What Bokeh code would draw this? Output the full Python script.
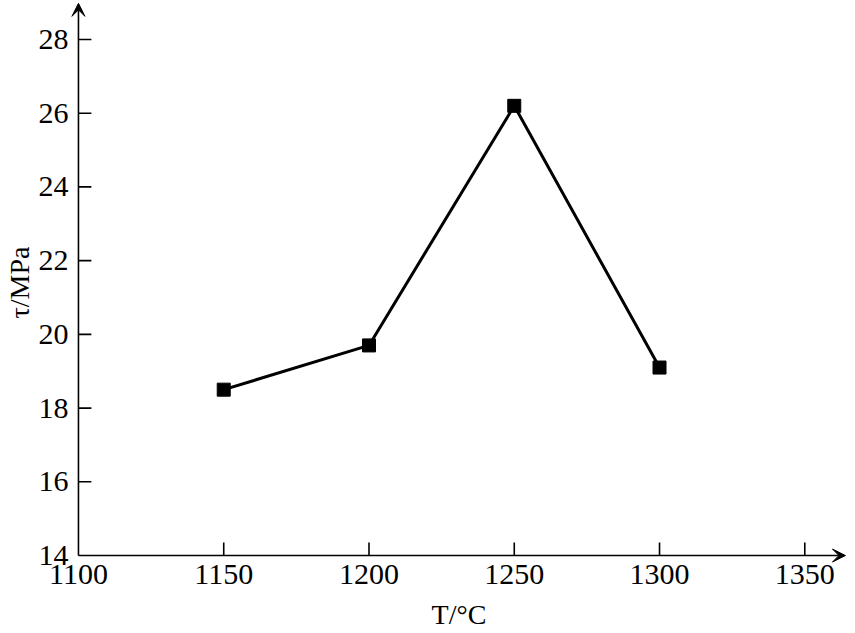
from bokeh.plotting import figure
from bokeh.models import Range1d, Arrow, VeeHead, FixedTicker
from bokeh.embed import file_html
from bokeh.resources import INLINE

temps = [1150, 1200, 1250, 1300]
tau = [18.5, 19.7, 26.2, 19.1]
x_ticks = [1100, 1150, 1200, 1250, 1300, 1350]
y_ticks = [14, 16, 18, 20, 22, 24, 26, 28]

XA, YA = 1100, 14          # axis origin
X0, X1 = 1097.26, 1364.7   # x range (a little room for arrow heads)
Y0, Y1 = 13.784, 29.03
XTIP, YTIP = 1364.0, 28.98
TX, TY = 13 / 2.92, 13 / 37.0   # tick lengths in data units

p = figure(width=847, height=632, output_backend="svg", toolbar_location=None,
           x_range=Range1d(X0, X1), y_range=Range1d(Y0, Y1),
           min_border_left=66, min_border_bottom=67, min_border_top=1, min_border_right=0)
p.outline_line_color = None
p.grid.grid_line_color = None

FONT = "Liberation Serif"
for ax in (p.xaxis[0], p.yaxis[0]):
    ax.axis_line_color = None
    ax.major_tick_line_color = None
    ax.minor_tick_line_color = None
    ax.major_tick_in = 0
    ax.major_tick_out = 0
    ax.major_label_text_font = FONT
    ax.major_label_text_font_size = "30px"
    ax.major_label_text_color = "black"
    ax.axis_label_text_font = FONT
    ax.axis_label_text_font_size = "28px"
    ax.axis_label_text_font_style = "normal"
    ax.axis_label_text_color = "black"

p.xaxis.ticker = FixedTicker(ticks=x_ticks)
p.yaxis.ticker = FixedTicker(ticks=y_ticks)
p.xaxis.major_label_standoff = 1
p.yaxis.major_label_standoff = 2
p.xaxis.axis_label = "T/°C"
p.yaxis.axis_label = "τ/MPa"
p.xaxis.axis_label_standoff = 12
p.yaxis.axis_label_standoff = 1

# axis lines with arrow heads
head = dict(size=13, fill_color="black", line_color="black", line_width=1)
p.add_layout(Arrow(end=VeeHead(**head), x_start=XA, y_start=YA, x_end=XTIP, y_end=YA,
                   line_color="black", line_width=1.6))
p.add_layout(Arrow(end=VeeHead(**head), x_start=XA, y_start=YA, x_end=XA, y_end=YTIP,
                   line_color="black", line_width=1.6))

# inward ticks
xt = x_ticks[1:]
yt = y_ticks[1:]
p.segment(x0=xt, y0=[YA] * len(xt), x1=xt, y1=[YA + TY] * len(xt),
          line_color="black", line_width=1.6)
p.segment(x0=[XA] * len(yt), y0=yt, x1=[XA + TX] * len(yt), y1=yt,
          line_color="black", line_width=1.6)

p.line(temps, tau, line_color="black", line_width=3)
p.scatter(temps, tau, marker="square", size=13, fill_color="black", line_color="black")

open("out.html", "w").write(file_html(p, INLINE))
